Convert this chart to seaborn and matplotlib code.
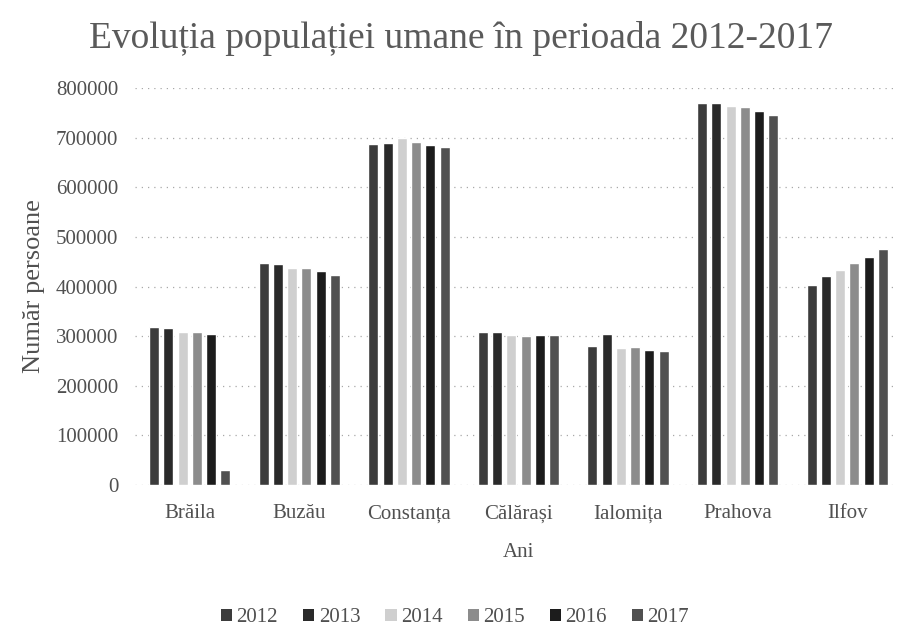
import matplotlib
matplotlib.use("Agg")
import matplotlib.pyplot as plt
import seaborn as sns
import pandas as pd
from matplotlib.patches import Patch

# Population per county and year
judete = ["Brăila", "Buzău", "Constanța", "Călărași", "Ialomița", "Prahova", "Ilfov"]
ani = ["2012", "2013", "2014", "2015", "2016", "2017"]
pop_2012 = [318500, 447000, 687000, 308000, 280000, 770000, 403000]
pop_2013 = [316000, 445000, 689000, 308000, 304000, 770000, 421000]
pop_2014 = [308000, 437000, 700000, 302000, 276000, 764000, 433000]
pop_2015 = [308000, 437000, 691000, 300000, 278000, 762000, 447000]
pop_2016 = [304000, 431000, 685000, 302000, 272000, 754000, 460000]
pop_2017 = [30000, 423000, 681000, 302000, 270000, 746000, 476000]
y_ticks = [0, 100000, 200000, 300000, 400000, 500000, 600000, 700000, 800000]

serii = [pop_2012, pop_2013, pop_2014, pop_2015, pop_2016, pop_2017]
rows = []
for an, vals in zip(ani, serii):
    for j, v in zip(judete, vals):
        rows.append({"Judet": j, "An": an, "Populatie": v})
df = pd.DataFrame(rows)

culori = ["#3c3c3c", "#2a2a2a", "#cfcfcf", "#8c8c8c", "#1c1c1c", "#505050"]
text_col = "#505050"

sns.set_theme(style="white")
plt.rcParams["font.family"] = ["Liberation Serif", "DejaVu Serif"]

fig = plt.figure(figsize=(8.97, 6.30), dpi=100)
ax = fig.add_axes([135 / 897, 1 - 485 / 630, 767 / 897, (485 - 88) / 630])

sns.barplot(data=df, x="Judet", y="Populatie", hue="An", hue_order=ani,
            order=judete, palette=culori, width=0.78, gap=0.3,
            saturation=1, legend=False, ax=ax)

ax.set_xlim(-0.5, 6.5)
ax.set_ylim(0, 800000)
ax.set_yticks(y_ticks)
ax.set_yticklabels([str(t) for t in y_ticks], fontsize=15, color=text_col)
ax.tick_params(axis="x", labelsize=15, colors=text_col, length=0, pad=14)
ax.tick_params(axis="y", length=0, pad=12)
ax.yaxis.grid(True, linestyle=(0, (1, 4)), color="#a8a8a8", linewidth=0.9)
ax.set_axisbelow(True)
for s in ax.spines.values():
    s.set_visible(False)

ax.set_xlabel("Ani", fontsize=15, color=text_col, labelpad=14)
ax.set_ylabel("Număr persoane", fontsize=19, color=text_col, labelpad=8)

fig.text(461 / 897, 1 - 38 / 630, "Evoluția populației umane în perioada 2012-2017",
         ha="center", va="center", fontsize=27, color="#5a5a5a")

handles = [Patch(facecolor=c, edgecolor="none") for c in culori]
fig.legend(handles, ani, loc="center", bbox_to_anchor=(455 / 897, 1 - 618 / 630),
           ncol=6, frameon=False, fontsize=15, handlelength=0.55, handleheight=0.55,
           handletextpad=0.2, columnspacing=1.2, labelcolor=text_col)

fig.savefig("out.png", dpi=100)
